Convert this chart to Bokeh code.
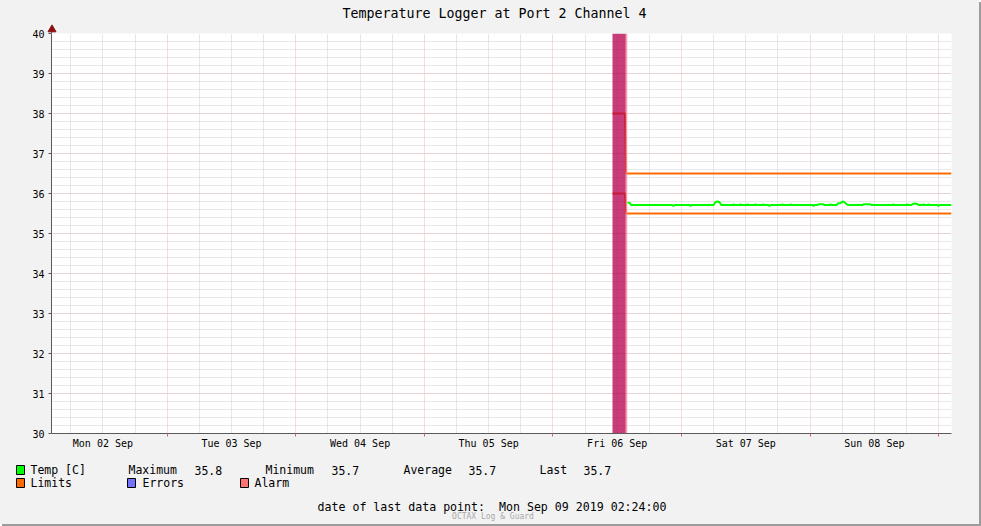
import pandas as pd
from bokeh.plotting import figure
from bokeh.layouts import column
from bokeh.models import FixedTicker, SingleIntervalTicker, Range1d
from bokeh.core.properties import value
from bokeh.embed import file_html
from bokeh.resources import INLINE

FONT = "DejaVu Sans Mono"
BG = "#F2F2F2"
W = 979
TOP_PAD = 7

# ---------------- data ----------------
title_text = "Temperature Logger at Port 2 Channel 4"
range_start = "2019-09-02 02:24"
range_end = "2019-09-09 02:24"
day_dates = ["2019-09-02", "2019-09-03", "2019-09-04", "2019-09-05",
             "2019-09-06", "2019-09-07", "2019-09-08"]
day_labels = ["Mon 02 Sep", "Tue 03 Sep", "Wed 04 Sep", "Thu 05 Sep",
              "Fri 06 Sep", "Sat 07 Sep", "Sun 08 Sep"]
y_min, y_max = 30, 40

temp_times = [
    "2019-09-06 13:55", "2019-09-06 14:20", "2019-09-06 14:35", "2019-09-06 22:15",
    "2019-09-06 22:30", "2019-09-06 22:45", "2019-09-07 01:30", "2019-09-07 01:41",
    "2019-09-07 01:55", "2019-09-07 06:00", "2019-09-07 06:20", "2019-09-07 06:45",
    "2019-09-07 07:05", "2019-09-07 07:25", "2019-09-07 09:30", "2019-09-07 09:42",
    "2019-09-07 09:55", "2019-09-07 10:50", "2019-09-07 11:01", "2019-09-07 11:15",
    "2019-09-07 12:05", "2019-09-07 12:19", "2019-09-07 12:30", "2019-09-07 13:35",
    "2019-09-07 13:49", "2019-09-07 14:00", "2019-09-07 15:05", "2019-09-07 15:18",
    "2019-09-07 15:30", "2019-09-07 16:15", "2019-09-07 16:26", "2019-09-07 16:40",
    "2019-09-07 18:40", "2019-09-07 18:51", "2019-09-07 19:05", "2019-09-07 20:10",
    "2019-09-07 20:21", "2019-09-07 20:35", "2019-09-08 00:25", "2019-09-08 00:38",
    "2019-09-08 00:50", "2019-09-08 01:20", "2019-09-08 01:34", "2019-09-08 02:30",
    "2019-09-08 02:45", "2019-09-08 03:35", "2019-09-08 03:48", "2019-09-08 04:00",
    "2019-09-08 04:55", "2019-09-08 05:10", "2019-09-08 05:40", "2019-09-08 06:00",
    "2019-09-08 06:14", "2019-09-08 06:35", "2019-09-08 06:59", "2019-09-08 07:15",
    "2019-09-08 09:45", "2019-09-08 09:58", "2019-09-08 11:17", "2019-09-08 11:30",
    "2019-09-08 15:20", "2019-09-08 15:34", "2019-09-08 15:50", "2019-09-08 18:00",
    "2019-09-08 18:11", "2019-09-08 18:25", "2019-09-08 18:55", "2019-09-08 19:10",
    "2019-09-08 19:30", "2019-09-08 20:03", "2019-09-08 20:15", "2019-09-08 21:00",
    "2019-09-08 21:10", "2019-09-08 21:20", "2019-09-08 21:55", "2019-09-08 22:06",
    "2019-09-08 22:20", "2019-09-08 23:45", "2019-09-08 23:58", "2019-09-09 00:10",
    "2019-09-09 02:24",
]
temp_values = [
    35.77, 35.77, 35.71, 35.71,
    35.69, 35.71, 35.71, 35.69,
    35.71, 35.71, 35.79, 35.80,
    35.79, 35.71, 35.71, 35.73,
    35.71, 35.71, 35.73, 35.71,
    35.71, 35.73, 35.71, 35.71,
    35.73, 35.71, 35.71, 35.73,
    35.71, 35.71, 35.69, 35.71,
    35.71, 35.73, 35.71, 35.71,
    35.73, 35.71, 35.71, 35.69,
    35.71, 35.71, 35.73, 35.73,
    35.71, 35.71, 35.73, 35.71,
    35.71, 35.75, 35.76, 35.79,
    35.80, 35.76, 35.72, 35.71,
    35.71, 35.73, 35.73, 35.71,
    35.71, 35.73, 35.71, 35.71,
    35.73, 35.71, 35.71, 35.74,
    35.75, 35.74, 35.71, 35.71,
    35.73, 35.71, 35.71, 35.73,
    35.71, 35.71, 35.69, 35.71,
    35.71,
]

limit_times = ["2019-09-06 11:07", "2019-09-06 13:28", "2019-09-06 13:40", "2019-09-09 02:24"]
upper_limit = [38.0, 38.0, 36.5, 36.5]
lower_limit = [36.0, 36.0, 35.5, 35.5]

alarm_start = ["2019-09-06 11:07"]
alarm_end = ["2019-09-06 13:36"]
alarm_tail_end = ["2019-09-06 13:52"]

stat_names = ["Maximum", "Minimum", "Average", "Last"]
stat_values = ["35.8", "35.7", "35.7", "35.7"]
legend_names = ["Temp [C]", "Limits", "Errors", "Alarm"]
legend_colors = ["#00FF00", "#FF6A00", "#7373FF", "#FF7373"]
last_point_text = "date of last data point:\u00a0 Mon Sep 09 2019 02:24:00"
watermark_text = "OCTAX Log & Guard"


def ts(v):
    return pd.to_datetime(v)


def ms(v):
    return pd.Timestamp(v).value / 1e6


def blank_panel(h, y0, y1):
    f = figure(width=W, height=h, output_backend="svg", toolbar_location=None,
               title=None, x_range=Range1d(0, W), y_range=Range1d(y1, y0),
               x_axis_location=None, y_axis_location=None,
               min_border=0, min_border_left=0, min_border_right=0,
               min_border_top=0, min_border_bottom=0)
    f.frame_align = False
    f.grid.visible = False
    f.outline_line_color = None
    f.background_fill_color = BG
    f.border_fill_color = BG
    return f


x0, x1 = ts(range_start), ts(range_end)

# ---------------- title panel ----------------
t = blank_panel(33, 0, 33)
t.text(x=[494], y=[13], text=[title_text], text_font=value(FONT),
       text_font_size=value("13.3px"), text_baseline="middle", text_align="center",
       text_color="#000000")
# arrow head on top of the value axis
t.segment(x0=[51], y0=[30], x1=[51], y1=[33], line_color="#5A5A5A", line_width=1)
t.scatter(x=[51.5], y=[29], marker="triangle", size=8,
          fill_color="#8B1010", line_color="#8B1010")

# ---------------- main chart ----------------
p = figure(width=W, height=423 + TOP_PAD, x_axis_type="datetime", title=None,
           output_backend="svg", toolbar_location=None,
           x_range=Range1d(x0, x1), y_range=Range1d(y_min, y_max),
           min_border_left=51, min_border_right=W - 951, min_border_top=TOP_PAD,
           min_border_bottom=23)
p.frame_align = False
p.margin = (-TOP_PAD, 0, 0, 0)
p.background_fill_color = "#FFFFFF"
p.border_fill_color = BG
p.border_fill_alpha = 0.0
p.outline_line_color = None

noon_ticks = [ms(ts(d) + pd.Timedelta(hours=12)) for d in day_dates]
midnights = [ms(v) for v in pd.date_range("2019-09-02", "2019-09-09", freq="1D")]
six_h = [ms(v) for v in pd.date_range("2019-09-02", "2019-09-09 06:00", freq="6h")
         if v.hour != 0]

xa = p.xaxis[0]
xa.ticker = FixedTicker(ticks=noon_ticks, minor_ticks=midnights)
xa.major_label_overrides = {tk: lab for tk, lab in zip(noon_ticks, day_labels)}
xa.major_tick_line_color = None
xa.minor_tick_line_color = "#D06060"
xa.minor_tick_in = 0
xa.minor_tick_out = 3
xa.major_label_standoff = -2
xa.axis_line_color = "#5A5A5A"
xa.major_label_text_font = FONT
xa.major_label_text_font_size = "10px"
xa.major_label_text_color = "#000000"

ya = p.yaxis[0]
ya.ticker = SingleIntervalTicker(interval=1, num_minor_ticks=5)
ya.major_tick_line_color = "#5A5A5A"
ya.major_tick_in = 0
ya.major_tick_out = 3
ya.minor_tick_line_color = None
ya.major_label_standoff = 3
ya.axis_line_color = "#5A5A5A"
ya.major_label_text_font = FONT
ya.major_label_text_font_size = "10px"
ya.major_label_text_color = "#000000"

p.xgrid.ticker = FixedTicker(ticks=midnights, minor_ticks=six_h)
for g in (p.xgrid[0], p.ygrid[0]):
    g.grid_line_color = "#E6BEBE"
    g.grid_line_dash = "1 1"
    g.minor_grid_line_color = "#D0D0D0"
    g.minor_grid_line_dash = "1 1"

p.line(ts(limit_times), upper_limit, line_color="#FF6A00", line_width=2)
p.line(ts(limit_times), lower_limit, line_color="#FF6A00", line_width=2)
p.quad(left=ts(alarm_start), right=ts(alarm_end), bottom=[y_min], top=[y_max],
       fill_color="#B6004E", fill_alpha=0.76, line_color=None)
p.quad(left=ts(alarm_end), right=ts(alarm_tail_end), bottom=[y_min], top=[y_max],
       fill_color="#FF7F9A", fill_alpha=0.8, line_color=None)
p.line(ts(temp_times), temp_values, line_color="#00FF00", line_width=2)

# ---------------- legend / footer panel (pixel coordinates) ----------------
q = blank_panel(68, 456, 524)

row1, row2 = 469.5, 482.5
sq_left = [16, 16, 127, 240]
sq_row = [row1, row2, row2, row2]
q.quad(left=sq_left, right=[v + 8 for v in sq_left],
       top=[r - 4.5 for r in sq_row], bottom=[r + 4.5 for r in sq_row],
       fill_color=legend_colors, line_color="#000000", line_width=1)

txt_x = [30, 30, 142, 254]
txt_y = [row1, row2, row2, row2]
legend_texts = list(legend_names)
stat_name_x = [128, 265, 403, 539]
stat_val_x = [194, 331, 468, 583]
for nx, vx, n, v in zip(stat_name_x, stat_val_x, stat_names, stat_values):
    txt_x += [nx, vx]
    txt_y += [row1, row1]
    legend_texts += [n, v]

q.text(x=txt_x, y=txt_y, text=legend_texts, text_font=value(FONT),
       text_font_size=value("11.5px"), text_baseline="middle", text_align="left",
       text_color="#000000")
q.text(x=[491.5], y=[506], text=[last_point_text], text_font=value(FONT),
       text_font_size=value("11.6px"), text_baseline="middle", text_align="center",
       text_color="#000000")
q.text(x=[492.5], y=[515.5], text=[watermark_text], text_font=value(FONT),
       text_font_size=value("8px"), text_baseline="middle", text_align="center",
       text_color="#A8A8A8")

layout = column(t, p, q, spacing=0)
layout.styles = {"box-shadow": "2px 2px 0 0 #9C9C9C", "background-color": BG}
open("out.html", "w").write(file_html(layout, INLINE))
